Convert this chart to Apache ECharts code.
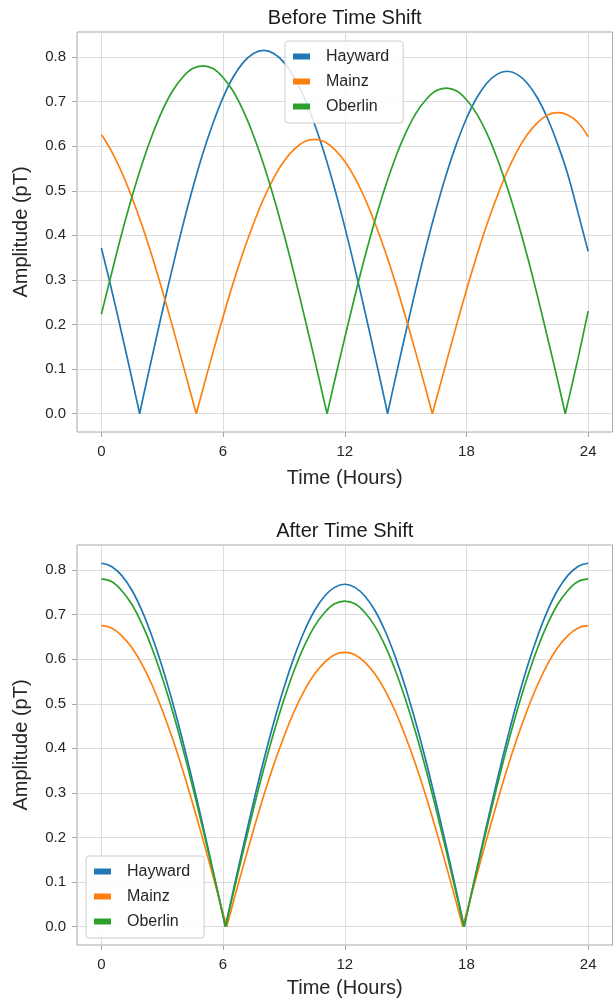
<!DOCTYPE html>
<html><head><meta charset="utf-8">
<script src="https://cdn.jsdelivr.net/npm/echarts@6/dist/echarts.min.js"></script>
<style>html,body{margin:0;padding:0;background:#fff}#c{width:613px;height:1002px}</style>
</head><body><div id="c"></div>
<script>
// ---- data ----
const hours = [0,0.5,1,1.5,2,2.5,3,3.5,4,4.5,5,5.5,6,6.5,7,7.5,8,8.5,9,9.5,10,10.5,11,11.5,12,12.5,13,13.5,14,14.5,15,15.5,16,16.5,17,17.5,18,18.5,19,19.5,20,20.5,21,21.5,22,22.5,23,23.5,24];
const stationNames = ['Hayward','Mainz','Oberlin'];
const stationColors = ['#1f77b4','#ff7f0e','#2ca02c'];

const haywardBefore = [0.372,0.279,0.181,0.080,0.024,0.127,0.228,0.326,0.419,0.505,0.583,0.651,0.709,0.755,0.788,0.808,0.815,0.808,0.788,0.755,0.709,0.651,0.583,0.505,0.419,0.326,0.228,0.127,0.024,0.080,0.181,0.279,0.372,0.458,0.536,0.604,0.662,0.708,0.741,0.761,0.768,0.761,0.741,0.708,0.662,0.604,0.536,0.451,0.364];
const mainzBefore = [0.626,0.589,0.542,0.486,0.423,0.353,0.277,0.197,0.114,0.030,0.054,0.137,0.217,0.293,0.363,0.426,0.482,0.529,0.566,0.593,0.610,0.615,0.610,0.593,0.566,0.529,0.482,0.426,0.363,0.293,0.217,0.137,0.054,0.030,0.114,0.197,0.277,0.353,0.423,0.486,0.542,0.589,0.626,0.653,0.670,0.675,0.670,0.653,0.621];
const oberlinBefore = [0.223,0.314,0.403,0.485,0.559,0.624,0.679,0.723,0.754,0.774,0.780,0.774,0.754,0.723,0.679,0.624,0.559,0.485,0.403,0.314,0.220,0.124,0.025,0.074,0.170,0.264,0.353,0.435,0.509,0.574,0.629,0.673,0.704,0.724,0.730,0.724,0.704,0.673,0.629,0.574,0.509,0.435,0.353,0.264,0.170,0.074,0.025,0.124,0.230];
const haywardBeforeZeros = [1.89, 14.11];
const mainzBeforeZeros = [4.68, 16.32];
const oberlinBeforeZeros = [11.13, 22.87];

const haywardAfter = [0.815,0.808,0.788,0.755,0.709,0.651,0.583,0.505,0.419,0.326,0.228,0.127,0.024,0.080,0.181,0.279,0.372,0.458,0.536,0.604,0.662,0.708,0.741,0.761,0.768,0.761,0.741,0.708,0.662,0.604,0.536,0.458,0.372,0.279,0.181,0.080,0.024,0.127,0.228,0.326,0.419,0.505,0.583,0.651,0.709,0.755,0.788,0.808,0.815];
const mainzAfter = [0.675,0.670,0.653,0.626,0.589,0.542,0.486,0.423,0.353,0.277,0.197,0.114,0.030,0.054,0.137,0.217,0.293,0.363,0.426,0.482,0.529,0.566,0.593,0.610,0.615,0.610,0.593,0.566,0.529,0.482,0.426,0.363,0.293,0.217,0.137,0.054,0.030,0.114,0.197,0.277,0.353,0.423,0.486,0.542,0.589,0.626,0.653,0.670,0.675];
const oberlinAfter = [0.780,0.774,0.754,0.723,0.679,0.624,0.559,0.485,0.403,0.314,0.220,0.124,0.025,0.074,0.170,0.264,0.353,0.435,0.509,0.574,0.629,0.673,0.704,0.724,0.730,0.724,0.704,0.673,0.629,0.574,0.509,0.435,0.353,0.264,0.170,0.074,0.025,0.124,0.220,0.314,0.403,0.485,0.559,0.624,0.679,0.723,0.754,0.774,0.780];
const haywardAfterZeros = [6.11, 17.89];
const mainzAfterZeros = [6.18, 17.82];
const oberlinAfterZeros = [6.13, 17.87];

const xTickStep = 6;      // 0, 6, 12, 18, 24
const xTickMax = 24;
const yTickStep = 0.1;    // 0.0 ... 0.8
const yTickMax = 0.8;

// ---- layout / style ----
const FONT = '"Liberation Sans", Arial, Helvetica, sans-serif';
const TXT = '#262626';
const SPINE = '#a8a8a8';
const GRIDC = '#dcdcdc';
const X_MIN = -1.2, X_MAX = 25.2, Y_MIN = -0.041, Y_MAX = 0.856;
const BOX_L = 77, BOX_R = 612.5, BOX_H = 400;

// merge samples with zero points; break the line at each zero so the
// smooth arches keep their sharp cusps
function pts(vals, zeros) {
  const p = hours.map((h, i) => [h, vals[i], false]);
  zeros.forEach(z => p.push([z, 0, true]));
  p.sort((a, b) => a[0] - b[0]);
  const out = [];
  p.forEach(q => {
    out.push([q[0], q[1]]);
    if (q[2]) { out.push([q[0], '-']); out.push([q[0], q[1]]); }
  });
  return out;
}

const panels = [
  { title: 'Before Time Shift', top: 32, titleY: 18, xNameGap: 36,
    vals: [haywardBefore, mainzBefore, oberlinBefore],
    zeros: [haywardBeforeZeros, mainzBeforeZeros, oberlinBeforeZeros],
    legend: { left: 285, top: 41 } },
  { title: 'After Time Shift', top: 545, titleY: 531, xNameGap: 33,
    vals: [haywardAfter, mainzAfter, oberlinAfter],
    zeros: [haywardAfterZeros, mainzAfterZeros, oberlinAfterZeros],
    legend: { left: 86, top: 856 } }
];

const grid = [], xAxis = [], yAxis = [], series = [], legend = [], graphic = [];
const boxW = BOX_R - BOX_L;
const pxPerX = boxW / (X_MAX - X_MIN);
const pxPerY = BOX_H / (Y_MAX - Y_MIN);

panels.forEach((p, pi) => {
  const g0 = grid.length;
  grid.push({ left: BOX_L, top: p.top, width: boxW, height: BOX_H, show: true,
              borderColor: SPINE, borderWidth: 1, backgroundColor: 'transparent', containLabel: false });
  grid.push({ left: BOX_L + (0 - X_MIN) * pxPerX, top: p.top, width: xTickMax * pxPerX, height: BOX_H });
  grid.push({ left: BOX_L, top: p.top + (Y_MAX - yTickMax) * pxPerY, width: boxW, height: yTickMax * pxPerY });

  const hidden = { axisLine: { show: false }, axisTick: { show: false }, axisLabel: { show: false }, splitLine: { show: false } };
  xAxis.push(Object.assign({ gridIndex: g0, type: 'value', min: X_MIN, max: X_MAX,
    name: 'Time (Hours)', nameLocation: 'middle', nameGap: p.xNameGap,
    nameTextStyle: { fontSize: 20, color: TXT, fontFamily: FONT } }, hidden));
  yAxis.push(Object.assign({ gridIndex: g0, type: 'value', min: Y_MIN, max: Y_MAX,
    name: 'Amplitude (pT)', nameLocation: 'middle', nameGap: 46,
    nameTextStyle: { fontSize: 20, color: TXT, fontFamily: FONT } }, hidden));

  xAxis.push({ gridIndex: g0 + 1, type: 'value', min: 0, max: xTickMax, interval: xTickStep,
    axisLine: { show: false },
    axisTick: { show: true, length: 5, lineStyle: { color: SPINE, width: 1 } },
    axisLabel: { fontSize: 15, color: TXT, fontFamily: FONT, margin: 12 },
    splitLine: { show: true, lineStyle: { color: GRIDC, width: 1 } } });
  yAxis.push({ gridIndex: g0 + 1, type: 'value', min: 0, max: 1, show: false });

  xAxis.push({ gridIndex: g0 + 2, type: 'value', min: 0, max: 1, show: false });
  yAxis.push({ gridIndex: g0 + 2, type: 'value', min: 0, max: yTickMax, interval: yTickStep,
    axisLine: { show: false },
    axisTick: { show: true, length: 5, lineStyle: { color: SPINE, width: 1 } },
    axisLabel: { fontSize: 15, color: TXT, fontFamily: FONT, margin: 11,
                 formatter: v => v.toFixed(1) },
    splitLine: { show: true, lineStyle: { color: GRIDC, width: 1 } } });

  stationNames.forEach((nm, si) => {
    series.push({ type: 'line', name: nm, xAxisIndex: g0, yAxisIndex: g0,
      data: pts(p.vals[si], p.zeros[si]), showSymbol: false, symbol: 'none',
      smooth: 0.4, connectNulls: false,
      lineStyle: { color: stationColors[si], width: 1.7 },
      itemStyle: { color: stationColors[si] }, z: 3, animation: false });
  });

  legend.push({ orient: 'vertical', left: p.legend.left, top: p.legend.top,
    data: stationNames, icon: 'rect', itemWidth: 17, itemHeight: 6, itemGap: 8,
    padding: [7, 14, 8, 8], borderColor: '#cccccc', borderWidth: 1, borderRadius: 3,
    backgroundColor: 'rgba(255,255,255,0.85)', selectedMode: false,
    textStyle: { fontSize: 16, color: TXT, fontFamily: FONT, lineHeight: 17, padding: [0, 0, 0, 11] } });

  graphic.push({ type: 'text', x: BOX_L + boxW / 2, y: p.titleY,
    style: { text: p.title, fill: '#1a1a1a', font: '20px ' + FONT,
             textAlign: 'center', textVerticalAlign: 'middle', align: 'center', verticalAlign: 'middle' } });
});

const chart = echarts.init(document.getElementById('c'), null, { renderer: 'canvas' });
chart.setOption({ animation: false, backgroundColor: '#fff', grid, xAxis, yAxis, series, legend, graphic });
</script></body></html>
